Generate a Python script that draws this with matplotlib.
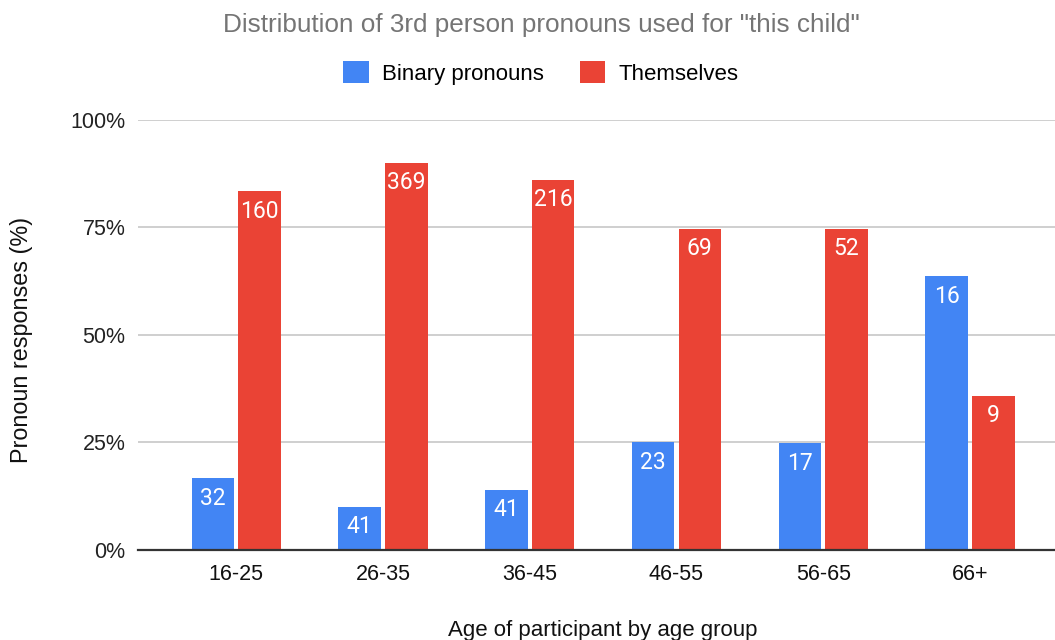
import numpy as np
import matplotlib
matplotlib.use("Agg")
import matplotlib.pyplot as plt
from matplotlib.patches import Patch

plt.rcParams.update({
    "font.family": ["Liberation Sans", "DejaVu Sans"],
    "font.size": 15.5,
})

AGE_GROUPS = ["16-25", "26-35", "36-45", "46-55", "56-65", "66+"]
# share of responses per age group (%)
BINARY_PCT = [16.7, 10.0, 14.0, 25.0, 24.8, 63.6]
THEMSELVES_PCT = [83.3, 90.0, 86.0, 74.6, 74.6, 35.8]
# raw response counts shown on the bars
BINARY_N = [32, 41, 41, 23, 17, 16]
THEMSELVES_N = [160, 369, 216, 69, 52, 9]

BLUE = "#4285F4"
RED = "#EA4335"

W, H = 1055, 640
fig = plt.figure(figsize=(W / 100, H / 100), dpi=100)
# plot area in pixel terms: left 138, right edge, 0% at y=550, 100% at y=119.5
ax = fig.add_axes([138 / W, 1 - 550 / H, 1 - 138 / W, (550 - 119.5) / H])

x = np.arange(len(AGE_GROUPS))
w = 0.29
off = w / 2 + 0.014
b1 = ax.bar(x - off, BINARY_PCT, w, color=BLUE, zorder=3)
b2 = ax.bar(x + off, THEMSELVES_PCT, w, color=RED, zorder=3)

for bars, counts in ((b1, BINARY_N), (b2, THEMSELVES_N)):
    for rect, n in zip(bars, counts):
        ax.annotate(str(n), (rect.get_x() + rect.get_width() / 2, rect.get_height()),
                    xytext=(0, -20), textcoords="offset pixels",
                    ha="center", va="center", color="white", fontsize=16.5,
                    family=["Roboto", "DejaVu Sans"], zorder=4)

ax.set_xlim(-0.67, 5.58)
ax.set_ylim(0, 100)
ax.set_yticks([0, 25, 50, 75, 100])
ax.set_yticklabels(["0%", "25%", "50%", "75%", "100%"])
ax.set_xticks(x)
ax.set_xticklabels(AGE_GROUPS)
ax.yaxis.grid(True, color="#cccccc", linewidth=1.3, zorder=0)
ax.tick_params(axis="y", length=0, pad=9, labelcolor="#222222")
ax.tick_params(axis="x", length=0, pad=10, labelcolor="#111111")
for s in ("top", "right", "left"):
    ax.spines[s].set_visible(False)
ax.spines["bottom"].set_color("#333333")
ax.spines["bottom"].set_linewidth(1.6)
ax.spines["bottom"].set_zorder(5)

fig.text(541 / W, 1 - 25 / H, 'Distribution of 3rd person pronouns used for "this child"',
         ha="center", va="center", fontsize=18.8, color="#757575")
fig.text(22 / W, 1 - 340 / H, "Pronoun responses (%)", rotation=90,
         ha="center", va="center", fontsize=16.8, color="#111111")
fig.text(603 / W, 4 / H, "Age of participant by age group",
         ha="center", va="baseline", fontsize=16, color="#111111")

handles = [Patch(facecolor=BLUE, label="Binary pronouns"),
           Patch(facecolor=RED, label="Themselves")]
fig.legend(handles=handles, loc="center", bbox_to_anchor=(541 / W, 1 - 73 / H),
           ncol=2, frameon=False, fontsize=16, handlelength=1.15, handleheight=1.15,
           handletextpad=0.6, columnspacing=1.6)

fig.savefig("out.png", dpi=100)
